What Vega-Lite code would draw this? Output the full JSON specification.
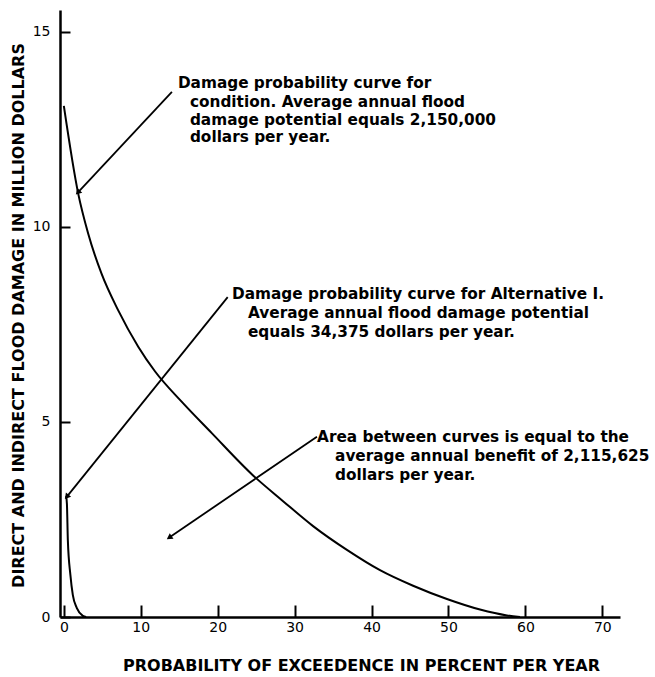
{
  "$schema": "https://vega.github.io/schema/vega-lite/v6.json",
  "width": 560,
  "height": 607,
  "autosize": {"type": "none"},
  "padding": {"left": 60, "top": 10, "right": 35, "bottom": 60},
  "background": "white",
  "config": {"view": {"stroke": null}, "font": "DejaVu Sans"},
  "datasets": {
    "curves": [
      {"series": "Existing condition", "p": 0.0, "damage": 13.1},
      {"series": "Existing condition", "p": 1.86, "damage": 10.86},
      {"series": "Existing condition", "p": 3.16, "damage": 9.83},
      {"series": "Existing condition", "p": 4.9, "damage": 8.8},
      {"series": "Existing condition", "p": 7.07, "damage": 7.86},
      {"series": "Existing condition", "p": 9.67, "damage": 6.93},
      {"series": "Existing condition", "p": 11.84, "damage": 6.3},
      {"series": "Existing condition", "p": 15.31, "damage": 5.52},
      {"series": "Existing condition", "p": 19.2, "damage": 4.72},
      {"series": "Existing condition", "p": 24.6, "damage": 3.63},
      {"series": "Existing condition", "p": 28.5, "damage": 2.97},
      {"series": "Existing condition", "p": 32.4, "damage": 2.33},
      {"series": "Existing condition", "p": 36.8, "damage": 1.72},
      {"series": "Existing condition", "p": 41.1, "damage": 1.2},
      {"series": "Existing condition", "p": 45.4, "damage": 0.8},
      {"series": "Existing condition", "p": 49.8, "damage": 0.46},
      {"series": "Existing condition", "p": 54.1, "damage": 0.19},
      {"series": "Existing condition", "p": 57.6, "damage": 0.04},
      {"series": "Existing condition", "p": 59.3, "damage": 0.0},
      {"series": "Alternative I", "p": 0.3, "damage": 3.1},
      {"series": "Alternative I", "p": 0.4, "damage": 2.9},
      {"series": "Alternative I", "p": 0.52, "damage": 1.97},
      {"series": "Alternative I", "p": 0.85, "damage": 1.08},
      {"series": "Alternative I", "p": 1.17, "damage": 0.56},
      {"series": "Alternative I", "p": 1.69, "damage": 0.23},
      {"series": "Alternative I", "p": 2.47, "damage": 0.03},
      {"series": "Alternative I", "p": 2.9, "damage": 0.0}
    ],
    "arrows": [
      {"id": 1, "x1": 14.05, "y1": 13.46, "x2": 1.9, "y2": 10.9},
      {"id": 2, "x1": 21.3, "y1": 8.2, "x2": 0.45, "y2": 3.1},
      {"id": 3, "x1": 32.9, "y1": 4.62, "x2": 13.8, "y2": 2.05}
    ],
    "notes": [
      {"x": 14.83, "y": 13.69, "text": "Damage probability curve for"},
      {"x": 16.39, "y": 13.21, "text": "condition. Average annual flood"},
      {"x": 16.39, "y": 12.74, "text": "damage potential equals 2,150,000"},
      {"x": 16.39, "y": 12.31, "text": "dollars per year."},
      {"x": 21.86, "y": 8.28, "text": "Damage probability curve for Alternative I."},
      {"x": 23.94, "y": 7.79, "text": "Average annual flood damage potential"},
      {"x": 23.94, "y": 7.31, "text": "equals 34,375 dollars per year."},
      {"x": 32.92, "y": 4.62, "text": "Area between curves is equal to the"},
      {"x": 35.26, "y": 4.13, "text": "average annual benefit of 2,115,625"},
      {"x": 35.26, "y": 3.64, "text": "dollars per year."}
    ]
  },
  "layer": [
    {
      "data": {"name": "curves"},
      "mark": {"type": "line", "color": "black", "strokeWidth": 2, "interpolate": "monotone"},
      "encoding": {
        "x": {
          "field": "p", "type": "quantitative",
          "scale": {"domain": [-0.5, 72.3], "nice": false, "zero": false},
          "axis": {
            "values": [0, 10, 20, 30, 40, 50, 60, 70],
            "grid": false,
            "tickSize": -12, "tickWidth": 2, "tickColor": "black",
            "domainWidth": 2.5, "domainColor": "black",
            "labelFont": "DejaVu Sans", "labelFontSize": 14, "labelColor": "black",
            "labelPadding": 15,
            "title": "PROBABILITY OF EXCEEDENCE IN PERCENT PER YEAR",
            "titleFont": "DejaVu Sans", "titleFontSize": 16, "titleFontWeight": "bold", "titleColor": "black",
            "titleX": 301, "titleY": 48, "titleBaseline": "middle", "titleAlign": "center"
          }
        },
        "y": {
          "field": "damage", "type": "quantitative",
          "scale": {"domain": [0, 15.56], "nice": false},
          "axis": {
            "values": [0, 5, 10, 15],
            "grid": false,
            "tickSize": -10, "tickWidth": 2, "tickColor": "black",
            "domainWidth": 2.5, "domainColor": "black",
            "labelFont": "DejaVu Sans", "labelFontSize": 14, "labelColor": "black",
            "labelPadding": 20,
            "title": "DIRECT AND INDIRECT FLOOD DAMAGE IN MILLION DOLLARS",
            "titleFont": "DejaVu Sans", "titleFontSize": 16, "titleFontWeight": "bold", "titleColor": "black",
            "titleX": -42, "titleY": 305, "titleBaseline": "middle", "titleAlign": "center"
          }
        },
        "detail": {"field": "series"}
      }
    },
    {
      "data": {"name": "arrows"},
      "mark": {"type": "rule", "color": "black", "strokeWidth": 1.8},
      "encoding": {
        "x": {"field": "x1", "type": "quantitative"},
        "y": {"field": "y1", "type": "quantitative"},
        "x2": {"field": "x2"},
        "y2": {"field": "y2"}
      }
    },
    {
      "data": {"name": "arrows"},
      "transform": [{"filter": "datum.id == 1"}],
      "mark": {"type": "point", "shape": "triangle", "filled": true, "color": "black", "size": 45, "angle": 223, "opacity": 1},
      "encoding": {
        "x": {"field": "x2", "type": "quantitative"},
        "y": {"field": "y2", "type": "quantitative"}
      }
    },
    {
      "data": {"name": "arrows"},
      "transform": [{"filter": "datum.id == 2"}],
      "mark": {"type": "point", "shape": "triangle", "filled": true, "color": "black", "size": 45, "angle": 219, "opacity": 1},
      "encoding": {
        "x": {"field": "x2", "type": "quantitative"},
        "y": {"field": "y2", "type": "quantitative"}
      }
    },
    {
      "data": {"name": "arrows"},
      "transform": [{"filter": "datum.id == 3"}],
      "mark": {"type": "point", "shape": "triangle", "filled": true, "color": "black", "size": 45, "angle": 236, "opacity": 1},
      "encoding": {
        "x": {"field": "x2", "type": "quantitative"},
        "y": {"field": "y2", "type": "quantitative"}
      }
    },
    {
      "data": {"name": "notes"},
      "mark": {"type": "text", "align": "left", "baseline": "middle", "font": "DejaVu Sans", "fontSize": 15.3, "fontWeight": "bold", "color": "black"},
      "encoding": {
        "x": {"field": "x", "type": "quantitative"},
        "y": {"field": "y", "type": "quantitative"},
        "text": {"field": "text"}
      }
    }
  ]
}
